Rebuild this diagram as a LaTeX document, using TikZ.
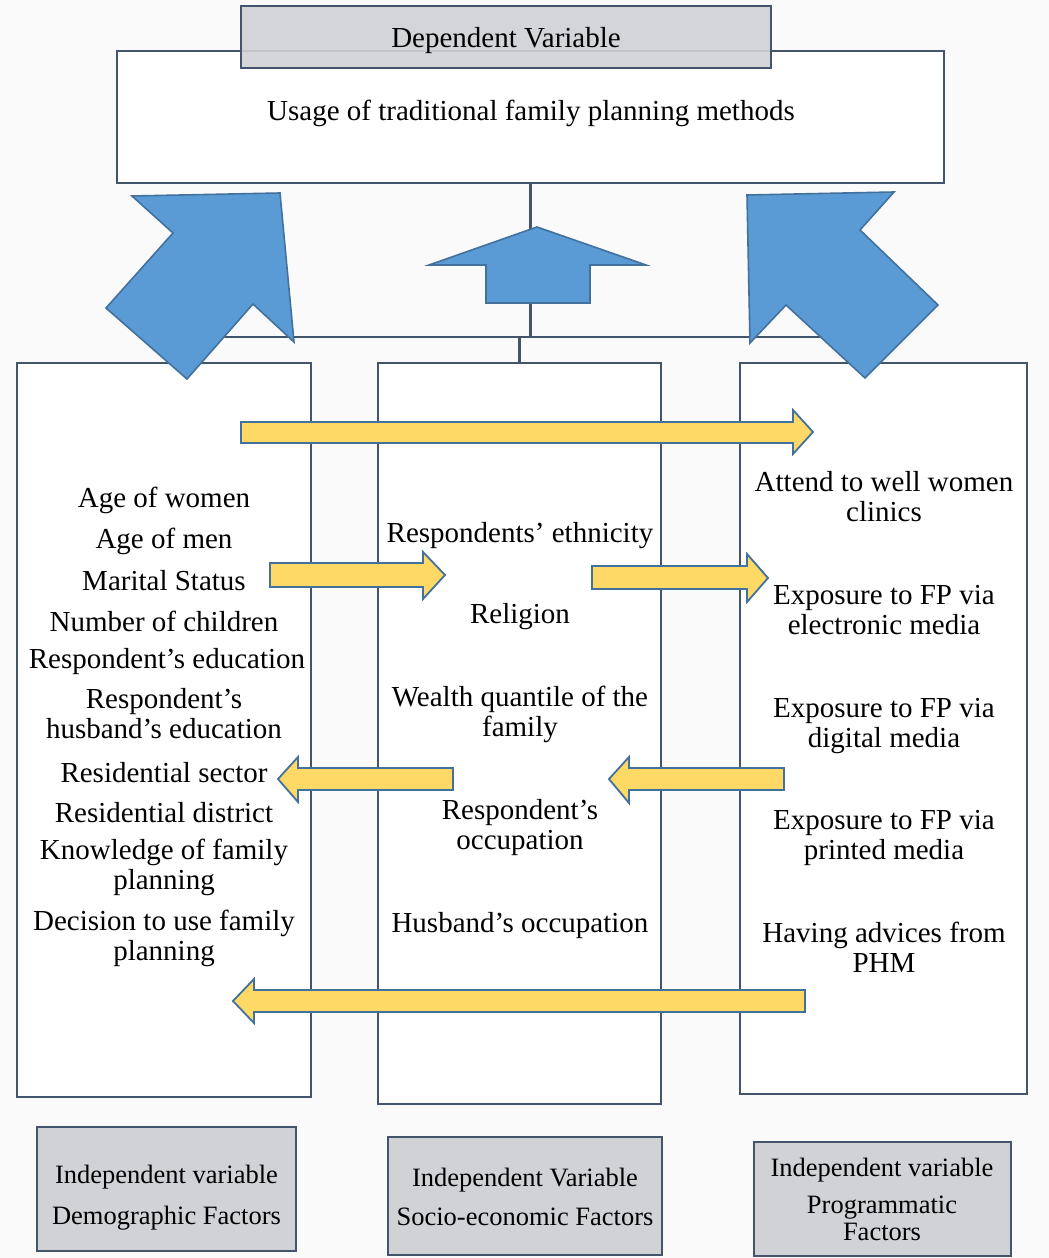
\documentclass[tikz,border=0pt]{standalone}
\usepackage{fontspec}
\setmainfont{Liberation Serif}
\usetikzlibrary{positioning}
\definecolor{frameslate}{HTML}{44546A}
\definecolor{tagfill}{HTML}{D0D2D6}
\definecolor{pagegrey}{HTML}{FAFAFB}
\definecolor{arrowblue}{HTML}{5B9BD5}
\definecolor{arrowedge}{HTML}{41719C}
\definecolor{arrowyellow}{HTML}{FFD966}

\begin{document}
\begin{tikzpicture}[x=1pt, y=-1pt,
        box/.style={draw=frameslate, line width=2.2pt, fill=white, inner sep=0pt},
        tagbox/.style={box, fill=tagfill, line width=2.6pt},
        factor/.style={align=center, inner sep=0pt, font=\fontsize{29}{30}\selectfont},
        tagtext/.style={align=center, inner sep=0pt, font=\fontsize{26.5}{30}\selectfont},
        link/.style={draw=frameslate, line width=2.2pt},
        bluearrow/.style={fill=arrowblue, draw=arrowedge, line width=1.6pt},
        yellowarrow/.style={fill=arrowyellow, draw=arrowedge, line width=1.8pt}
    ]
      \useasboundingbox[fill=pagegrey] (0,0) rectangle (1049,1258);

      % Dependent variable
      \node[box, minimum width=827pt, minimum height=132pt] (outcome) at (530.5,117) {};
      \node[factor] (outcometext) at (531,113) {Usage of traditional family planning methods};
      \node[tagbox, line width=2pt, fill opacity=0.9, minimum width=530pt, minimum height=62pt] (dep) at (506,37) {};
      \node[factor] (deptext) at (506,41) {Dependent Variable};

      % Columns of factors
      \node[box, minimum width=294pt, minimum height=734pt] (demo) at (164,730) {};
      \node[box, minimum width=283pt, minimum height=741pt] (socio) at (519.5,733.5) {};
      \node[box, minimum width=287pt, minimum height=731pt] (prog) at (883.5,728.5) {};

      % Links
      \coordinate (barleft) at (200,337);
      \coordinate (barright) at (860,337);
      \coordinate (split) at (519.5,337);
      \draw[link] (barleft) -- (barright);
      \draw[link] (outcome.south) -- (outcome.south |- barleft);
      \draw[link] (split) -- (socio.north);

      % Blue arrows
      \draw[bluearrow] (132,196) -- (280,193) -- (294,342) -- (253,304) -- (187,379) -- (106,308) -- (173,233) -- cycle;
      \draw[bluearrow] (747,195) -- (894,192) -- (860,230) -- (938,305) -- (865,378) -- (786,305) -- (750,343) -- cycle;
      \draw[bluearrow] (537,227) -- (646,265) -- (590,265) -- (590,303) -- (486,303) -- (486,265) -- (429,265) -- cycle;

      % Demographic factors
      \node[factor] (agewomen) at (164,500) {Age of women};
      \node[factor] (agemen) at (164,541) {Age of men};
      \node[factor] (marital) at (164,581) {Marital Status};
      \node[factor] (children) at (164,621) {Number of children};
      \node[factor] (educ) at (167,662) {Respondent’s education};
      \node[factor] (husbeduc) at (164,714) {Respondent’s\\husband’s education};
      \node[factor] (sector) at (164,773) {Residential sector};
      \node[factor] (district) at (164,813) {Residential district};
      \node[factor] (knowledge) at (164,867) {Knowledge of family\\planning};
      \node[factor] (decision) at (164,938) {Decision to use family\\planning};

      % Socio-economic factors
      \node[factor] (ethnic) at (520,536) {Respondents’ ethnicity};
      \node[factor] (religion) at (520,617) {Religion};
      \node[factor] (wealth) at (520,714) {Wealth quantile of the\\family};
      \node[factor] (occup) at (520,828) {Respondent’s\\occupation};
      \node[factor] (husbocc) at (520,926) {Husband’s occupation};

      % Programmatic factors
      \node[factor] (clinic) at (884,497) {Attend to well women\\clinics};
      \node[factor] (electronic) at (884,610) {Exposure to FP via\\electronic media};
      \node[factor] (digital) at (884,726) {Exposure to FP via\\digital media};
      \node[factor] (printed) at (884,838) {Exposure to FP via\\printed media};
      \node[factor] (phm) at (884,947) {Having advices from\\PHM};

      % Yellow arrows
      \draw[yellowarrow] (241,422) -- (793,422) -- (793,410) -- (813,432) -- (793,454) -- (793,443) -- (241,443) -- cycle;
      \draw[yellowarrow] (270,563) -- (423,563) -- (423,552) -- (445,575) -- (423,599) -- (423,587) -- (270,587) -- cycle;
      \draw[yellowarrow] (592,566) -- (747,566) -- (747,554) -- (768,578) -- (747,602) -- (747,589) -- (592,589) -- cycle;
      \draw[yellowarrow] (453,768) -- (298,768) -- (298,757) -- (278,779) -- (298,802) -- (298,790) -- (453,790) -- cycle;
      \draw[yellowarrow] (784,768) -- (629,768) -- (629,757) -- (609,779) -- (629,803) -- (629,790) -- (784,790) -- cycle;
      \draw[yellowarrow] (805,990) -- (254,990) -- (254,979) -- (233,1001) -- (254,1023) -- (254,1012) -- (805,1012) -- cycle;

      % Independent variable labels
      \node[tagbox, minimum width=259pt, minimum height=124pt] (demotag) at (166.5,1189) {};
      \node[tagtext] (demotagtext) at (166.5,1198) {Independent variable\\[11pt]Demographic Factors};
      \node[tagbox, minimum width=274pt, minimum height=118pt] (sociotag) at (525,1196) {};
      \node[tagtext] (sociotagtext) at (525,1197) {Independent Variable\\[9pt]Socio-economic Factors};
      \node[tagbox, minimum width=257pt, minimum height=114pt] (progtag) at (882.5,1199) {};
      \node[tagtext] (progtagtext) at (882,1199) {Independent variable\\[7pt]Programmatic\\[-3pt]Factors};
    \end{tikzpicture}
\end{document}
